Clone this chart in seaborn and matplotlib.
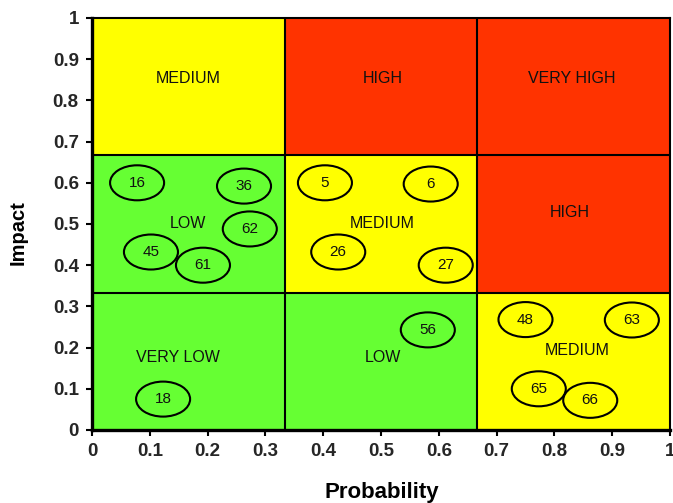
import numpy as np
import matplotlib
matplotlib.use("Agg")
import matplotlib.pyplot as plt
from matplotlib.colors import ListedColormap
from matplotlib.path import Path
from matplotlib.transforms import Affine2D
import seaborn as sns

# Risk register entries: id, probability, impact
risk_ids = [16, 36, 62, 45, 61, 18, 5, 6, 26, 27, 56, 48, 63, 65, 66]
probability = [0.078, 0.263, 0.273, 0.102, 0.192, 0.123, 0.403, 0.586,
               0.426, 0.612, 0.581, 0.750, 0.934, 0.773, 0.862]
impact = [0.600, 0.592, 0.488, 0.432, 0.400, 0.075, 0.600, 0.597,
          0.432, 0.400, 0.243, 0.268, 0.267, 0.100, 0.072]

# Zone grid (rows from low impact to high impact, columns by probability)
zone_edges = [0, 1 / 3, 2 / 3, 1]
zone_levels = [[0, 0, 1],
               [0, 1, 2],
               [1, 2, 2]]
zone_colors = ["#66FF33", "#FFFF00", "#FF3300"]
zone_names = [["VERY LOW", "LOW", "MEDIUM"],
              ["LOW", "MEDIUM", "HIGH"],
              ["MEDIUM", "HIGH", "VERY HIGH"]]
zone_label_x = [[0.149, 0.503, 0.840],
                [0.166, 0.503, 0.827],
                [0.166, 0.503, 0.830]]
zone_label_y = [[0.177, 0.177, 0.194],
                [0.500, 0.500, 0.527],
                [0.854, 0.854, 0.854]]

tick_values = [0, 0.1, 0.2, 0.3, 0.4, 0.5, 0.6, 0.7, 0.8, 0.9, 1]
tick_labels = ["0", "0.1", "0.2", "0.3", "0.4", "0.5", "0.6", "0.7", "0.8", "0.9", "1"]

sns.set_theme(style="white")
plt.rcParams["font.family"] = ["Liberation Sans", "DejaVu Sans"]

fig = plt.figure(figsize=(6.73, 5.03), dpi=100)
ax = fig.add_axes([92 / 673, 73 / 503, 578 / 673, 412 / 503])

# Coloured risk zones
ax.pcolormesh(zone_edges, zone_edges, np.array(zone_levels),
              cmap=ListedColormap(zone_colors), vmin=-0.5, vmax=2.5, zorder=0)
for edge in zone_edges[1:-1]:
    ax.axvline(edge, color="black", lw=1.5, zorder=1)
    ax.axhline(edge, color="black", lw=1.5, zorder=1)

for r in range(3):
    for c in range(3):
        ax.text(zone_label_x[r][c], zone_label_y[r][c], zone_names[r][c],
                ha="center", va="center", fontsize=11.5, color="#111111", zorder=3)

# Ellipse outline marker for each risk
circle = Path.unit_circle()
ellipse = Affine2D().scale(1.0, 0.648).transform_path(circle)
sns.scatterplot(x=probability, y=impact, marker=ellipse, s=1513,
                facecolor="none", edgecolor="black", linewidth=1.5,
                ax=ax, zorder=4, legend=False)
ax.collections[-1].set_facecolor("none")

for rid, px, py in zip(risk_ids, probability, impact):
    ax.text(px, py, str(rid), ha="center", va="center", fontsize=11,
            color="#111111", zorder=5)

ax.set_xlim(0, 1)
ax.set_ylim(0, 1)
ax.set_xticks(tick_values)
ax.set_xticklabels(tick_labels)
ax.set_yticks(tick_values)
ax.set_yticklabels(tick_labels)
ax.tick_params(axis="both", which="major", direction="out", length=4.5, width=1.5,
               color="black", labelsize=13.5, pad=5, left=True, bottom=True)
for lab in ax.get_xticklabels() + ax.get_yticklabels():
    lab.set_fontweight("bold")

for side in ["left", "bottom"]:
    ax.spines[side].set_linewidth(2.4)
    ax.spines[side].set_color("black")
for side in ["top", "right"]:
    ax.spines[side].set_linewidth(1.5)
    ax.spines[side].set_color("black")
    ax.spines[side].set_visible(True)

ax.set_xlabel("Probability", fontsize=16, fontweight="bold", color="black")
ax.set_ylabel("Impact", fontsize=14.5, fontweight="bold", color="black")
ax.xaxis.set_label_coords(0.502, -0.127)
ax.yaxis.set_label_coords(-0.111, 0.48)

fig.savefig("out.png", dpi=100, facecolor="white")
